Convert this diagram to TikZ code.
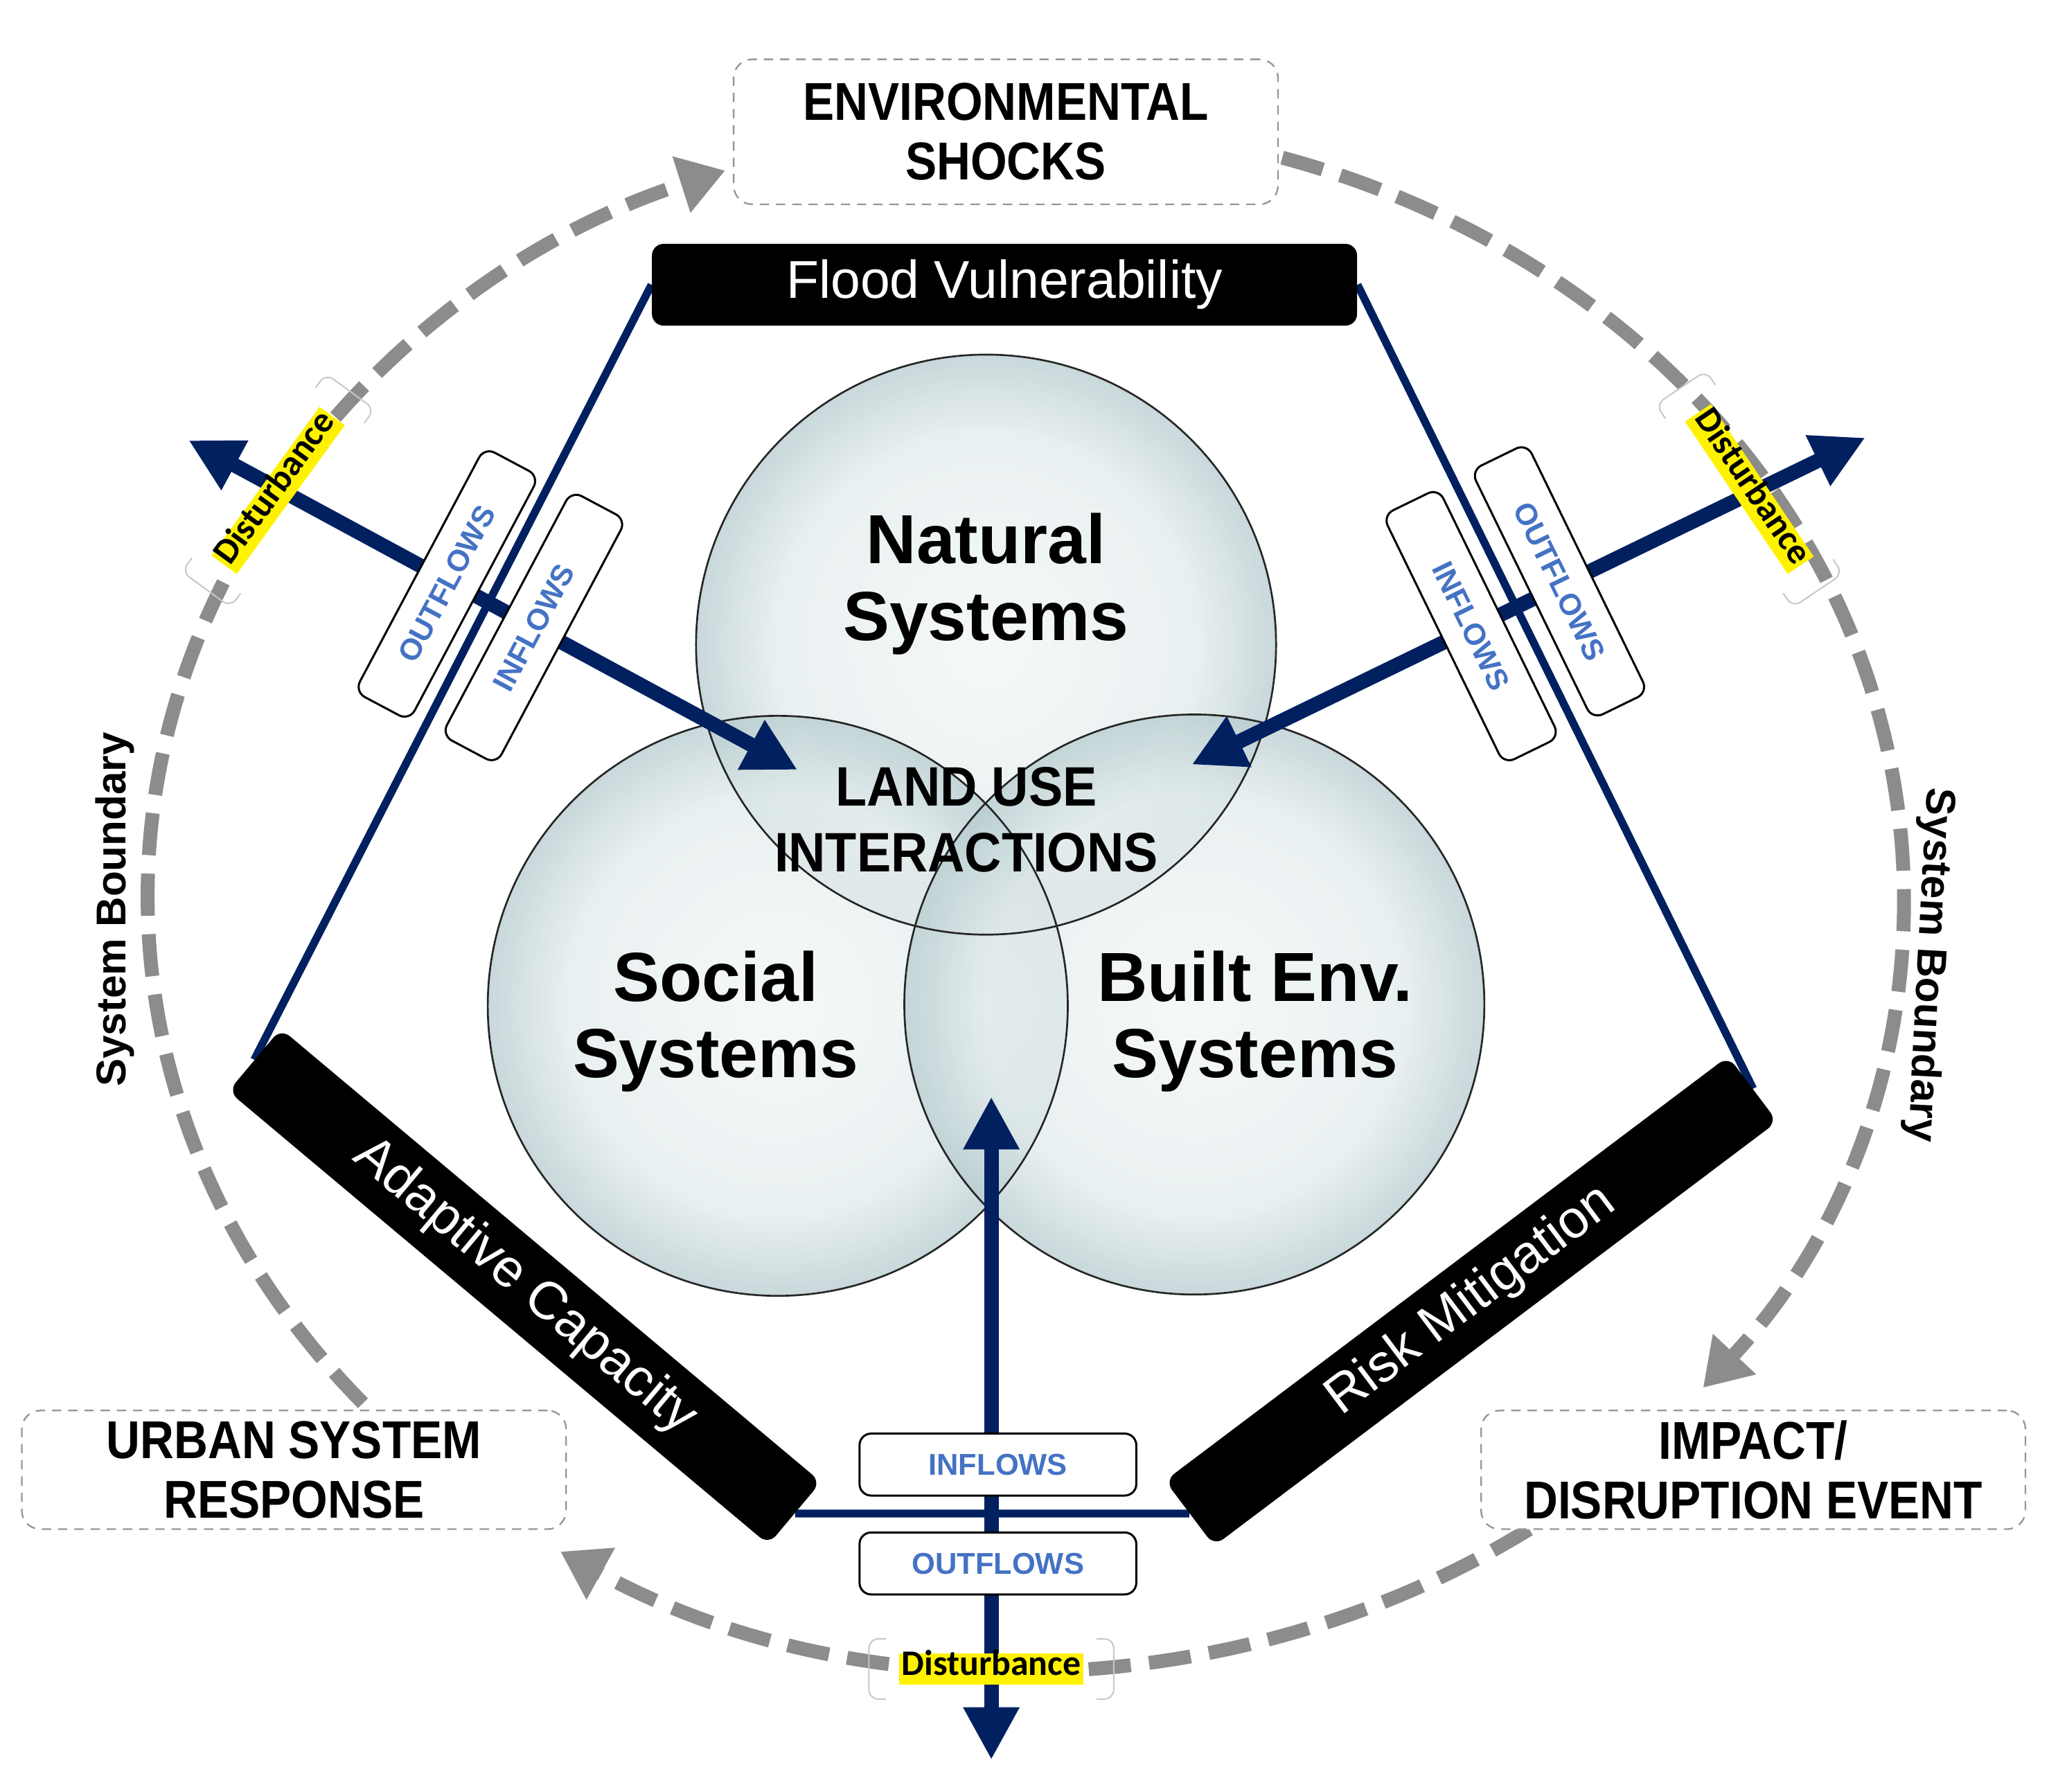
\documentclass[tikz,border=0pt]{standalone}
\usepackage{fontspec}
\setmainfont{Liberation Sans}
\newfontfamily\narrowfont{Liberation Sans}[FakeStretch=0.88]
\newfontfamily\landfont{Liberation Sans}[FakeStretch=0.92]
\newfontfamily\calfont{Carlito}
\usetikzlibrary{arrows.meta,calc,backgrounds}
\definecolor{navy}{RGB}{0,32,96}
\definecolor{flowblue}{RGB}{68,114,196}
\definecolor{bgray}{RGB}{140,140,140}
\definecolor{boxgray}{RGB}{150,150,150}
\definecolor{glassin}{RGB}{242,246,247}
\definecolor{glassmid}{RGB}{226,235,236}
\definecolor{glassout}{RGB}{182,203,206}
\pgfdeclareradialshading{glass}{\pgfpoint{0bp}{0bp}}{color(0bp)=(glassin); color(18bp)=(glassmid); color(25bp)=(glassout); color(50bp)=(glassout)}
\begin{document}
\begin{tikzpicture}[x=0.02cm,y=-0.02cm,line join=round]
\tikzset{
  venn/.style={circle,minimum size=8.8cm,inner sep=0pt,shading=glass,fill opacity=0.75},
  venn edge/.style={draw=black!85,line width=0.8pt},
  systext/.style={font=\bfseries\fontsize{30}{33}\selectfont,align=center},
  landtext/.style={font=\landfont\bfseries\fontsize{24}{28.5}\selectfont,align=center},
  stagebox/.style={draw=boxgray,dash pattern=on 4pt off 3pt,line width=0.7pt,rounded corners=8pt,fill=white,
    minimum width=8.26cm,inner sep=0pt,align=center,font=\narrowfont\bfseries\fontsize{23}{25.6}\selectfont},
  blackbar/.style={fill=black,rounded corners=5pt,minimum width=10.7cm,minimum height=1.24cm,inner sep=0pt,
    text=white,font=\fontsize{23}{25}\selectfont},
  flowbox/.style={draw=black,line width=0.9pt,fill=white,rounded corners=5pt,minimum width=4.2cm,minimum height=0.94cm,
    inner sep=0pt,text=flowblue,font=\bfseries\fontsize{13}{14}\selectfont},
  dist/.style={fill=yellow,inner xsep=1pt,inner ysep=2pt,text height=0.75em,text depth=0.2em,
    font=\calfont\bfseries\fontsize{15.5}{16}\selectfont},
  distframe/.style={minimum width=3.7cm,minimum height=0.9cm,inner sep=0pt},
  bracket/.style={draw=black!22,line width=0.6pt,rounded corners=4pt},
  boundary/.style={draw=bgray,line width=6pt,dash pattern=on 0.64cm off 0.28cm,
    arrows={-Triangle[width=0.85cm,length=0.7cm]}},
  link/.style={draw=navy,line width=3.4pt},
  flow/.style={draw=navy,line width=6.3pt,
    arrows={Triangle[width=0.8cm,length=0.8cm]-Triangle[width=0.8cm,length=0.8cm]}},
  sysb/.style={font=\bfseries\fontsize{18}{20}\selectfont}
}
\useasboundingbox (0,0) rectangle (1568,1359);

\node[venn] (nat) at (748,489) {};
\node[venn] (soc) at (590,763) {};
\node[venn] (blt) at (906,762) {};
\foreach \c in {nat,soc,blt} \draw[venn edge] (\c.center) circle[radius=220];

\coordinate (ctr) at (778,680);
\draw[boundary] ($(ctr)+(139:666 and 586)$) arc[start angle=139,end angle=250,x radius=666,y radius=586];
\draw[boundary] ($(ctr)+(287:666 and 586)$) arc[start angle=287,end angle=399.5,x radius=666,y radius=586];
\draw[boundary] ($(ctr)+(55:666 and 586)$) arc[start angle=55,end angle=122,x radius=666,y radius=586];

\node[blackbar] (flood) at (762,216) {Flood Vulnerability};
\node[blackbar,rotate=-40] (adapt) at (398,976) {Adaptive Capacity};
\node[blackbar,rotate=37] (risk) at (1116,987) {Risk Mitigation};
\begin{scope}[on background layer]
  \draw[link] (flood.west) -- (adapt.west);
  \draw[link] (adapt.east) -- (risk.west);
  \draw[link] (risk.east) -- (flood.east);
\end{scope}

\coordinate (lout) at (143,334);
\coordinate (lin) at (605,584);
\coordinate (rout) at (1415,332);
\coordinate (rin) at (904,580);
\coordinate (bup) at (752,832);
\coordinate (bdown) at (752,1335);
\draw[flow] (lout) -- (lin);
\draw[flow] (rout) -- (rin);
\draw[flow] (bup) -- (bdown);

\node[flowbox,rotate=62] (lof) at (339,443) {OUTFLOWS};
\node[flowbox,rotate=62] (linf) at (405,476) {INFLOWS};
\node[flowbox,rotate=-64] (rof) at (1183,441) {OUTFLOWS};
\node[flowbox,rotate=-64] (rinf) at (1116,475) {INFLOWS};
\node[flowbox] (binf) at (757,1111) {INFLOWS};
\node[flowbox] (bof) at (757,1186) {OUTFLOWS};

\node[systext] (nattxt) at (748,443) {Natural\\Systems};
\node[systext] (soctxt) at (543,775) {Social\\Systems};
\node[systext] (blttxt) at (952,775) {Built Env.\\Systems};
\node[landtext] (land) at (733,622) {LAND USE\\INTERACTIONS};

\node[stagebox,minimum height=2.2cm] (shock) at (763,100) {ENVIRONMENTAL\\SHOCKS};
\node[stagebox,minimum height=1.8cm] (urban) at (223,1115) {URBAN SYSTEM\\RESPONSE};
\node[stagebox,minimum height=1.8cm] (impact) at (1330,1115) {IMPACT/\\DISRUPTION EVENT};

\node[distframe,rotate=54] (fl) at (211,372) {};
\node[distframe,rotate=-56] (fr) at (1327,371) {};
\node[distframe] (fb) at (752,1266) {};
\foreach \f in {fl,fr,fb}{
  \draw[bracket] ($(\f.north west)!0.07!(\f.north east)$) -- (\f.north west) -- (\f.south west) -- ($(\f.south west)!0.07!(\f.south east)$);
  \draw[bracket] ($(\f.north east)!0.07!(\f.north west)$) -- (\f.north east) -- (\f.south east) -- ($(\f.south east)!0.07!(\f.south west)$);
}
\node[dist,rotate=54] (dl) at (211,372) {Disturbance};
\node[dist,rotate=-56] (dr) at (1327,371) {Disturbance};
\node[dist] (db) at (752,1266) {Disturbance};

\node[sysb,rotate=90] (sbl) at (87,690) {System Boundary};
\node[sysb,rotate=-93] (sbr) at (1463,732) {System Boundary};
\end{tikzpicture}
\end{document}
